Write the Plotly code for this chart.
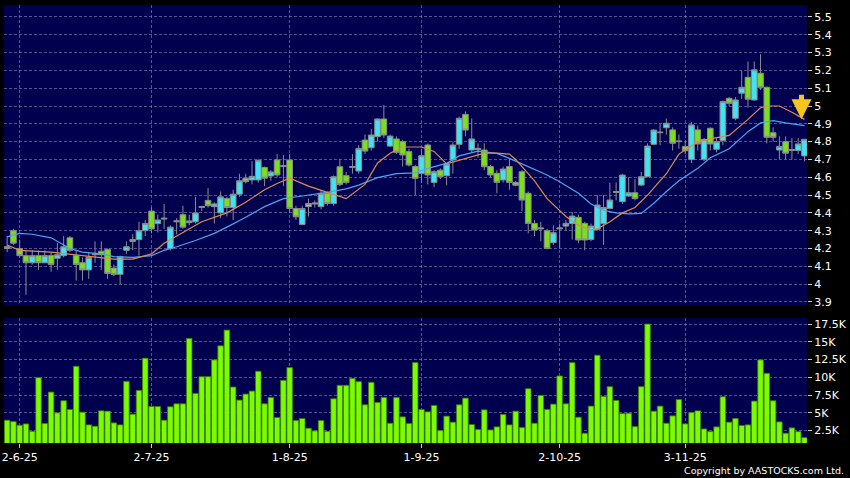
import pandas as pd
import plotly.graph_objects as go

# ---------------- data ----------------
holidays = ["2025-07-01", "2025-10-01", "2025-10-07", "2025-10-29"]
dates = [d.strftime("%Y-%m-%d") for d in pd.bdate_range("2025-05-29", "2025-11-28")
         if d.strftime("%Y-%m-%d") not in holidays]

opens = [4.20, 4.30, 4.20, 4.16, 4.12, 4.16, 4.12, 4.16, 4.145, 4.16,
         4.26, 4.16, 4.12, 4.08, 4.165, 4.185, 4.195, 4.09, 4.055, 4.19,
         4.24, 4.25, 4.30, 4.41, 4.34, 4.365, 4.20, 4.35, 4.39, 4.345,
         4.35, 4.43, 4.47, 4.435, 4.40, 4.48, 4.43, 4.505, 4.595, 4.585,
         4.585, 4.655, 4.607, 4.697, 4.66, 4.697, 4.425, 4.335, 4.435, 4.45,
         4.435, 4.51, 4.453, 4.659, 4.609, 4.655, 4.635, 4.809, 4.766, 4.828,
         4.927, 4.775, 4.815, 4.80, 4.744, 4.66, 4.622, 4.781, 4.571, 4.64,
         4.609, 4.697, 4.785, 4.953, 4.753, 4.755, 4.753, 4.66, 4.622, 4.585,
         4.66, 4.57, 4.631, 4.51, 4.341, 4.31, 4.30, 4.233, 4.31, 4.326,
         4.341, 4.375, 4.341, 4.251, 4.308, 4.34, 4.425, 4.515, 4.463, 4.495,
         4.513, 4.556, 4.603, 4.785, 4.85, 4.878, 4.866, 4.80, 4.772, 4.70,
         4.866, 4.701, 4.875, 4.757, 4.806, 5.043, 4.931, 5.072, 5.161, 5.034,
         5.184, 5.105, 4.85, 4.753, 4.80, 4.75, 4.75, 4.72]
highs = [4.27, 4.31, 4.25, 4.19, 4.19, 4.19, 4.19, 4.18, 4.23, 4.27,
         4.27, 4.19, 4.15, 4.18, 4.24, 4.24, 4.20, 4.11, 4.16, 4.24,
         4.28, 4.35, 4.36, 4.43, 4.39, 4.45, 4.33, 4.37, 4.44, 4.39,
         4.49, 4.44, 4.54, 4.46, 4.52, 4.49, 4.53, 4.62, 4.62, 4.69,
         4.70, 4.66, 4.64, 4.73, 4.725, 4.73, 4.44, 4.44, 4.48, 4.47,
         4.53, 4.52, 4.61, 4.70, 4.63, 4.73, 4.78, 4.84, 4.87, 4.93,
         5.006, 4.84, 4.83, 4.81, 4.76, 4.67, 4.76, 4.79, 4.64, 4.65,
         4.68, 4.80, 4.94, 4.97, 4.93, 4.79, 4.79, 4.67, 4.64, 4.66,
         4.70, 4.58, 4.64, 4.52, 4.36, 4.35, 4.31, 4.33, 4.34, 4.36,
         4.405, 4.39, 4.35, 4.34, 4.50, 4.50, 4.57, 4.57, 4.62, 4.60,
         4.59, 4.63, 4.79, 4.87, 4.90, 4.93, 4.88, 4.84, 4.80, 4.91,
         4.89, 4.82, 4.88, 4.82, 5.03, 5.05, 5.05, 5.20, 5.25, 5.25,
         5.29, 5.11, 4.88, 4.83, 4.83, 4.82, 4.82, 4.81]
lows = [4.18, 4.22, 4.15, 3.94, 4.11, 4.08, 4.12, 4.07, 4.08, 4.15,
        4.18, 4.02, 4.02, 4.03, 4.12, 4.08, 4.03, 4.045, 4.00, 4.17,
        4.19, 4.16, 4.27, 4.285, 4.29, 4.31, 4.19, 4.28, 4.31, 4.33,
        4.34, 4.41, 4.43, 4.34, 4.37, 4.38, 4.36, 4.49, 4.565, 4.56,
        4.57, 4.55, 4.58, 4.60, 4.55, 4.40, 4.36, 4.33, 4.38, 4.43,
        4.42, 4.44, 4.44, 4.55, 4.56, 4.62, 4.62, 4.73, 4.75, 4.80,
        4.82, 4.77, 4.73, 4.66, 4.66, 4.50, 4.57, 4.56, 4.545, 4.59,
        4.555, 4.62, 4.76, 4.83, 4.74, 4.71, 4.64, 4.60, 4.51, 4.57,
        4.53, 4.55, 4.41, 4.285, 4.27, 4.24, 4.195, 4.22, 4.20, 4.30,
        4.25, 4.23, 4.19, 4.24, 4.30, 4.22, 4.42, 4.47, 4.45, 4.49,
        4.47, 4.55, 4.60, 4.78, 4.78, 4.84, 4.75, 4.76, 4.73, 4.68,
        4.75, 4.69, 4.75, 4.74, 4.78, 5.00, 4.92, 5.04, 4.99, 5.03,
        5.09, 4.79, 4.80, 4.70, 4.70, 4.70, 4.73, 4.69]
closes = [4.21, 4.23, 4.16, 4.12, 4.16, 4.12, 4.16, 4.11, 4.165, 4.21,
          4.19, 4.11, 4.08, 4.15, 4.17, 4.165, 4.06, 4.055, 4.155, 4.21,
          4.25, 4.30, 4.34, 4.31, 4.36, 4.37, 4.32, 4.355, 4.32, 4.355,
          4.40, 4.435, 4.44, 4.45, 4.49, 4.43, 4.505, 4.58, 4.575, 4.605,
          4.695, 4.595, 4.63, 4.613, 4.665, 4.425, 4.378, 4.425, 4.453, 4.455,
          4.51, 4.453, 4.603, 4.56, 4.571, 4.66, 4.762, 4.747, 4.837, 4.927,
          4.837, 4.831, 4.74, 4.725, 4.669, 4.594, 4.721, 4.613, 4.631, 4.603,
          4.674, 4.781, 4.931, 4.865, 4.815, 4.762, 4.659, 4.613, 4.571, 4.646,
          4.571, 4.555, 4.472, 4.341, 4.304, 4.315, 4.20, 4.289, 4.315, 4.341,
          4.382, 4.248, 4.248, 4.326, 4.444, 4.43, 4.472, 4.52, 4.612, 4.513,
          4.48, 4.603, 4.775, 4.865, 4.853, 4.903, 4.791, 4.803, 4.749, 4.894,
          4.787, 4.813, 4.787, 4.80, 5.025, 5.015, 5.034, 5.105, 5.038, 5.203,
          5.105, 4.824, 4.824, 4.772, 4.735, 4.755, 4.787, 4.813]

volume = [3960, 3770, 3250, 3440, 2400, 9950, 3490, 7920, 5000, 6700,
          5470, 11550, 5090, 3300, 3110, 5280, 5230, 3580, 3300, 9430,
          4810, 8160, 12690, 5890, 5890, 3960, 5850, 6270, 6270, 15470,
          7730, 10090, 10090, 12450, 14430, 16650, 8630, 6790, 7640, 8060,
          10850, 6270, 7170, 4340, 9570, 11370, 3910, 4200, 2830, 2450,
          3910, 2400, 6980, 8870, 8870, 9860, 9390, 6130, 9290, 6460,
          7170, 3530, 7170, 4430, 3490, 12070, 5470, 5140, 6040, 2500,
          4530, 3680, 6130, 7070, 3350, 2640, 5420, 2590, 3020, 4760,
          3300, 5230, 2920, 8390, 3530, 7450, 5470, 6220, 10190, 6270,
          12070, 4380, 2120, 5940, 13110, 7310, 8680, 6740, 4900, 4950,
          3060, 8680, 17500, 5230, 5940, 3530, 4570, 6880, 3440, 5040,
          5280, 2730, 2360, 3020, 7260, 3680, 4200, 3210, 3300, 6650,
          12450, 10560, 6700, 3720, 2120, 2880, 2360, 1510]

# moving averages (bar index -> value)
ma10_idx = [0, 2, 7, 12, 17, 20, 23, 25, 27, 31, 35, 38, 41, 43, 45, 48, 51, 54, 57, 59,
            61, 63, 66, 68, 70, 74, 76, 78, 80, 81, 84, 86, 89, 91, 93, 94, 96, 98, 100, 102,
            105, 107, 110, 112, 115, 118, 120, 121, 123, 125, 127]
ma10_val = [4.22, 4.19, 4.18, 4.16, 4.14, 4.14, 4.17, 4.23, 4.27, 4.35, 4.40, 4.46, 4.53, 4.565,
            4.595, 4.55, 4.515, 4.48, 4.56, 4.68, 4.735, 4.77, 4.77, 4.745, 4.675, 4.715, 4.735,
            4.735, 4.73, 4.70, 4.58, 4.48, 4.38, 4.33, 4.305, 4.31, 4.35, 4.40, 4.43, 4.50, 4.62,
            4.73, 4.80, 4.815, 4.835, 4.925, 4.99, 5.0, 5.0, 4.965, 4.925]
ma20_idx = [0, 2, 4, 7, 10, 12, 15, 17, 20, 23, 25, 27, 30, 33, 35, 38, 41, 44, 47, 51,
            54, 56, 59, 62, 65, 67, 70, 72, 75, 78, 80, 83, 86, 88, 91, 93, 95, 97, 99, 101,
            103, 105, 107, 110, 112, 115, 118, 120, 122, 124, 127]
ma20_val = [4.265, 4.285, 4.28, 4.26, 4.20, 4.18, 4.17, 4.155, 4.15, 4.16, 4.19, 4.21, 4.245,
            4.285, 4.32, 4.375, 4.435, 4.48, 4.495, 4.515, 4.535, 4.556, 4.598, 4.62, 4.625,
            4.65, 4.678, 4.72, 4.747, 4.734, 4.706, 4.66, 4.613, 4.575, 4.51, 4.45, 4.415, 4.40,
            4.394, 4.397, 4.454, 4.52, 4.58, 4.65, 4.71, 4.76, 4.856, 4.905, 4.918, 4.905, 4.89]

date_tick_vals = ["2025-06-02", "2025-07-02", "2025-08-01", "2025-09-01", "2025-10-02", "2025-11-03"]
date_tick_text = ["2-6-25", "2-7-25", "1-8-25", "1-9-25", "2-10-25", "3-11-25"]
price_ticks = [3.9, 4.0, 4.1, 4.2, 4.3, 4.4, 4.5, 4.6, 4.7, 4.8, 4.9, 5.0, 5.1, 5.2, 5.3, 5.4, 5.5]
price_tick_text = ["3.9", "4", "4.1", "4.2", "4.3", "4.4", "4.5", "4.6", "4.7", "4.8", "4.9",
                   "5", "5.1", "5.2", "5.3", "5.4", "5.5"]
vol_ticks = [2500, 5000, 7500, 10000, 12500, 15000, 17500]
vol_tick_text = ["2.5K", "5K", "7.5K", "10K", "12.5K", "15K", "17.5K"]

# ---------------- styles ----------------
BG = "#00004f"
GRID = "rgba(150,150,200,0.55)"
CYAN = "#3ee4f2"
GREEN = "#78e11c"
WICK = "#8c8c8c"
FONT = dict(family="DejaVu Sans", size=11, color="white")

fig = go.Figure()
fig.add_trace(go.Candlestick(
    x=dates, open=opens, high=highs, low=lows, close=closes,
    xaxis="x", yaxis="y", whiskerwidth=0,
    increasing=dict(fillcolor=CYAN, line=dict(color=WICK, width=1)),
    decreasing=dict(fillcolor=GREEN, line=dict(color=WICK, width=1)),
    showlegend=False, hoverinfo="skip"))
fig.add_trace(go.Scatter(x=[dates[i] for i in ma20_idx], y=ma20_val, mode="lines",
                         line=dict(color="#4aa6f0", width=1.2), xaxis="x", yaxis="y",
                         showlegend=False, hoverinfo="skip"))
fig.add_trace(go.Scatter(x=[dates[i] for i in ma10_idx], y=ma10_val, mode="lines",
                         line=dict(color="#e08a52", width=1.2), xaxis="x", yaxis="y",
                         showlegend=False, hoverinfo="skip"))
fig.add_trace(go.Bar(x=dates, y=volume, xaxis="x2", yaxis="y2", width=0.88,
                     marker=dict(color="#7cfc00", line=dict(color="#3f8000", width=0.8)),
                     showlegend=False, hoverinfo="skip"))

xr = [-0.5, 127.4]
common_x = dict(type="category", range=xr, showgrid=True, gridcolor=GRID, griddash="3px,2px",
                gridwidth=1, tickmode="array", tickvals=date_tick_vals, zeroline=False,
                showline=False, fixedrange=True, automargin=False)
fig.update_layout(
    width=850, height=478,
    margin=dict(l=4, r=43, t=5, b=35, autoexpand=False),
    paper_bgcolor="black", plot_bgcolor=BG,
    font=FONT, hovermode=False, showlegend=False,
    boxgap=0.1, boxgroupgap=0,
    xaxis=dict(**common_x, anchor="y", domain=[0, 1], showticklabels=False, ticks="",
               rangeslider=dict(visible=False)),
    xaxis2=dict(**common_x, anchor="y2", domain=[0, 1], matches="x", ticktext=date_tick_text,
                ticks="outside", ticklen=4, tickcolor="#cccccc", showticklabels=True),
    yaxis=dict(domain=[0.3151, 1], range=[3.883, 5.567], side="right", anchor="x",
               tickmode="array", tickvals=price_ticks, ticktext=price_tick_text,
               ticks="outside", ticklen=4, tickcolor="#cccccc", automargin=False,
               showgrid=True, gridcolor=GRID, griddash="3px,2px", zeroline=False, fixedrange=True),
    yaxis2=dict(domain=[0, 0.2854], range=[750, 18350], side="right", anchor="x2",
                tickmode="array", tickvals=vol_ticks, ticktext=vol_tick_text,
                ticks="outside", ticklen=4, tickcolor="#cccccc", automargin=False,
                showgrid=True, gridcolor=GRID, griddash="3px,2px", zeroline=False, fixedrange=True),
)

fig.add_annotation(x=dates[-1], y=ma10_val[-1], xref="x", yref="y", xshift=-3,
                   ax=0, ay=-26, showarrow=True, arrowhead=2, arrowsize=0.8,
                   arrowwidth=5, arrowcolor="#f7c61c", text="")
fig.add_annotation(x=1.0486, y=-0.062, xref="paper", yref="paper", xanchor="right",
                   yanchor="middle", showarrow=False, text="Copyright by AASTOCKS.com Ltd.",
                   font=dict(family="DejaVu Sans", size=9.5, color="white"))

fig.write_html("out.html", config={"displayModeBar": False, "staticPlot": True},
               post_script="document.body.style.margin='0';document.body.style.overflow='hidden';")
